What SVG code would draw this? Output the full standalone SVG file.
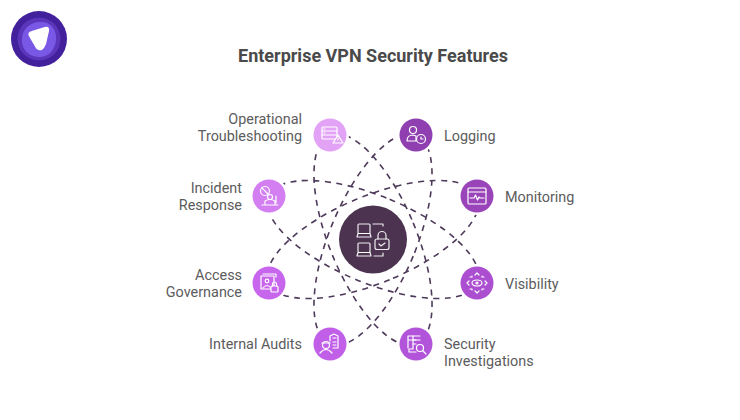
<svg xmlns="http://www.w3.org/2000/svg" width="740" height="420" viewBox="0 0 740 420">
<style>
text{font-family:Roboto,"Liberation Sans",sans-serif}
.t{font-size:18px;font-weight:700;fill:#4a4a4a;text-anchor:middle}
.l{font-size:14.400px;fill:#5c5c5c}
.e{text-anchor:end}
.d{fill:none;stroke:#4d3a5a;stroke-width:1.600;stroke-dasharray:6 5.500}
.i{fill:none;stroke:#fff;stroke-width:1.200;stroke-linejoin:round;stroke-linecap:round}
</style>
<rect width="740" height="420" fill="#fff"/>
<g id="logo">
<circle cx="39" cy="39" r="28" fill="#43209c"/>
<circle cx="39" cy="39" r="21.500" fill="#5b36bb"/>
<path d="M39 22C50 21 57 29 56 40C55 51 47 58 38 57C28 56 21 49 22 38C23 29 29 23 39 22Z" fill="#7a58e6"/>
<path d="M30 36Q28 33 32 32L45 28Q49 27 48 31L45 44Q42 52 37 48Z" fill="#fff" stroke="#fff" stroke-width="2" stroke-linejoin="round"/>
</g>
<text class="t" x="373" y="62">Enterprise VPN Security Features</text>
<g id="connectors">
<ellipse class="d" cx="373" cy="239.500" rx="43.500" ry="113" transform="rotate(-22.500 373 239.500)"/>
<ellipse class="d" cx="373" cy="239.500" rx="43.500" ry="113" transform="rotate(22.500 373 239.500)"/>
<ellipse class="d" cx="373" cy="239.500" rx="43.500" ry="113" transform="rotate(67.500 373 239.500)"/>
<ellipse class="d" cx="373" cy="239.500" rx="43.500" ry="113" transform="rotate(-67.500 373 239.500)"/>
</g>
<g id="center">
<circle cx="373" cy="239.500" r="37" fill="#fff"/>
<circle cx="373" cy="239.500" r="34" fill="#4c3450"/>
<g class="i" stroke-opacity="0.900"><rect x="358" y="224" width="12" height="9.500" rx="1"/><path d="M357 237h14l-1-3.500h-12z"/><rect x="358" y="243" width="12" height="9.500" rx="1"/><path d="M357 256h14l-1-3.500h-12z"/><path d="M373 224h10v2M374 256h9v-3"/><rect x="375" y="239" width="14" height="10.500" rx="2"/><path d="M378 239v-3.500a4 4 0 0 1 8 0v3.500M379 244l2 2 4-3"/></g>
</g>
<g id="n1"><circle cx="330" cy="135" r="19" fill="#fff"/><circle cx="330" cy="135" r="16.500" fill="#e2a2f6"/><g class="i"><rect x="322" y="127" width="15" height="12" rx="1"/><path d="M322 131h15M322 135h15M324 129h1M324 133h1"/><path d="M333 143l5-8 5 8z" fill="#e2a2f6"/><path d="M338 138v2"/></g>
<text class="l e" x="302" y="124">Operational</text><text class="l e" x="302" y="141">Troubleshooting</text></g>
<g id="n2"><circle cx="416" cy="135" r="19" fill="#fff"/><circle cx="416" cy="135" r="16.500" fill="#8f3fb0"/><g class="i"><circle cx="413" cy="130" r="3.500"/><path d="M407 141q0-6 6-6l3 1v5z"/><circle cx="421" cy="139" r="4.500" fill="#8f3fb0"/><path d="M421 137v2h2"/></g>
<text class="l" x="444" y="141">Logging</text></g>
<g id="n3"><circle cx="477" cy="196" r="19" fill="#fff"/><circle cx="477" cy="196" r="16.500" fill="#9a44ba"/><g class="i"><rect x="468" y="188" width="18" height="16" rx="1"/><path d="M468 192h18M470 198h4l1.500-3 2 5 1.500-3 1 1h4"/></g>
<text class="l" x="505" y="202">Monitoring</text></g>
<g id="n4"><circle cx="477" cy="283" r="19" fill="#fff"/><circle cx="477" cy="283" r="16.500" fill="#ab4ed0"/><g class="i"><ellipse cx="477" cy="283" rx="5" ry="3"/><circle cx="477" cy="283" r="1"/><path d="M475 275l2-2 2 2M475 291l2 2 2-2M469 281l-2 2 2 2M485 281l2 2-2 2M470 277h2v-1M484 277h-2v-1M470 289h2v1M484 289h-2v1"/></g>
<text class="l" x="505" y="289">Visibility</text></g>
<g id="n5"><circle cx="416" cy="344" r="19" fill="#fff"/><circle cx="416" cy="344" r="16.500" fill="#b254da"/><g class="i"><path d="M416 352h-7v-3h4v-13h-5v4h8M408 340v8"/><path d="M413 336h7M413 340h7M413 344h3"/><circle cx="420" cy="348" r="3.500"/><path d="M423 351l3 3"/></g>
<text class="l" x="444" y="349">Security</text><text class="l" x="444" y="366">Investigations</text></g>
<g id="n6"><circle cx="330" cy="344" r="19" fill="#fff"/><circle cx="330" cy="344" r="16.500" fill="#c15fe8"/><g class="i"><circle cx="326" cy="345" r="3.500"/><path d="M320 353q6-7 12 0M322 343h8"/><path d="M330 341v-5l4-2 4 2v12h-5M333 338h3M333 342h3M333 345h3"/></g>
<text class="l e" x="302" y="349">Internal Audits</text></g>
<g id="n7"><circle cx="269" cy="283" r="19" fill="#fff"/><circle cx="269" cy="283" r="16.500" fill="#c766ec"/><g class="i"><rect x="261" y="276" width="13" height="13"/><path d="M263 274h13v3"/><circle cx="267" cy="281" r="1.800"/><path d="M263 288q4-5 8 0"/><rect x="271" y="286" width="7" height="6" rx="1" fill="#c766ec"/><path d="M272.500 286v-2a2 2 0 0 1 4 0v2"/></g>
<text class="l e" x="242" y="280">Access</text><text class="l e" x="242" y="297">Governance</text></g>
<g id="n8"><circle cx="269" cy="196" r="19" fill="#fff"/><circle cx="269" cy="196" r="16.500" fill="#d37ef1"/><g class="i"><circle cx="265" cy="191" r="4.500"/><path d="M262 188l6 6"/><circle cx="270" cy="197" r="2.500"/><path d="M265 204v-3q5-3 10 0v3M262 205h16M276 196v7"/></g>
<text class="l e" x="242" y="193">Incident</text><text class="l e" x="242" y="210">Response</text></g>
</svg>
